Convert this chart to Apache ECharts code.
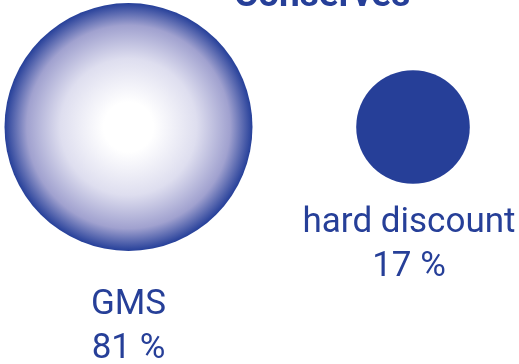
<!DOCTYPE html>
<html>
<head>
<meta charset="utf-8">
<script src="https://cdn.jsdelivr.net/npm/echarts@6/dist/echarts.min.js"></script>
<style>html,body{margin:0;padding:0;background:#fff;}#c{width:519px;height:364px;}</style>
</head>
<body>
<div id="c"></div>
<script>
const titleText = 'Conserves';
const categories = ['GMS', 'hard discount'];
const shares = [81, 17];

const blue = '#263f98';
const chart = echarts.init(document.getElementById('c'));
const k = 27.55;
chart.setOption({
  animation: false,
  title: {
    text: titleText, left: 229, top: -27,
    textStyle: { fontFamily: 'Roboto', fontWeight: 'bold', fontSize: 37, color: blue }
  },
  grid: { left: 128.5, right: 106, top: 27, bottom: 137 },
  xAxis: { type: 'category', data: categories, boundaryGap: false, show: false },
  yAxis: { type: 'value', min: -1, max: 1, show: false },
  series: [{
    type: 'scatter',
    symbol: 'circle',
    data: [
      {
        value: [categories[0], 0, shares[0]], name: categories[0],
        itemStyle: {
          opacity: 1,
          color: {
            type: 'radial', x: 0.5, y: 0.5, r: 0.5,
            colorStops: [
              { offset: 0, color: '#ffffff' },
              { offset: 0.2, color: '#ffffff' },
              { offset: 0.55, color: '#dedeef' },
              { offset: 0.82, color: '#a0a1cf' },
              { offset: 1, color: '#253f99' }
            ]
          }
        },
        label: { distance: 32 }
      },
      {
        value: [categories[1], 0, shares[1]], name: categories[1],
        itemStyle: { color: blue, opacity: 1 },
        label: { distance: 17, offset: [-4, 0] }
      }
    ],
    symbolSize: function (v) { return Math.sqrt(v[2]) * k; },
    label: {
      show: true, position: 'bottom',
      formatter: function (p) { return p.name + '\n' + p.value[2] + ' %'; },
      fontFamily: 'Roboto', fontSize: 35, lineHeight: 44, color: blue
    }
  }]
});
</script>
</body>
</html>
